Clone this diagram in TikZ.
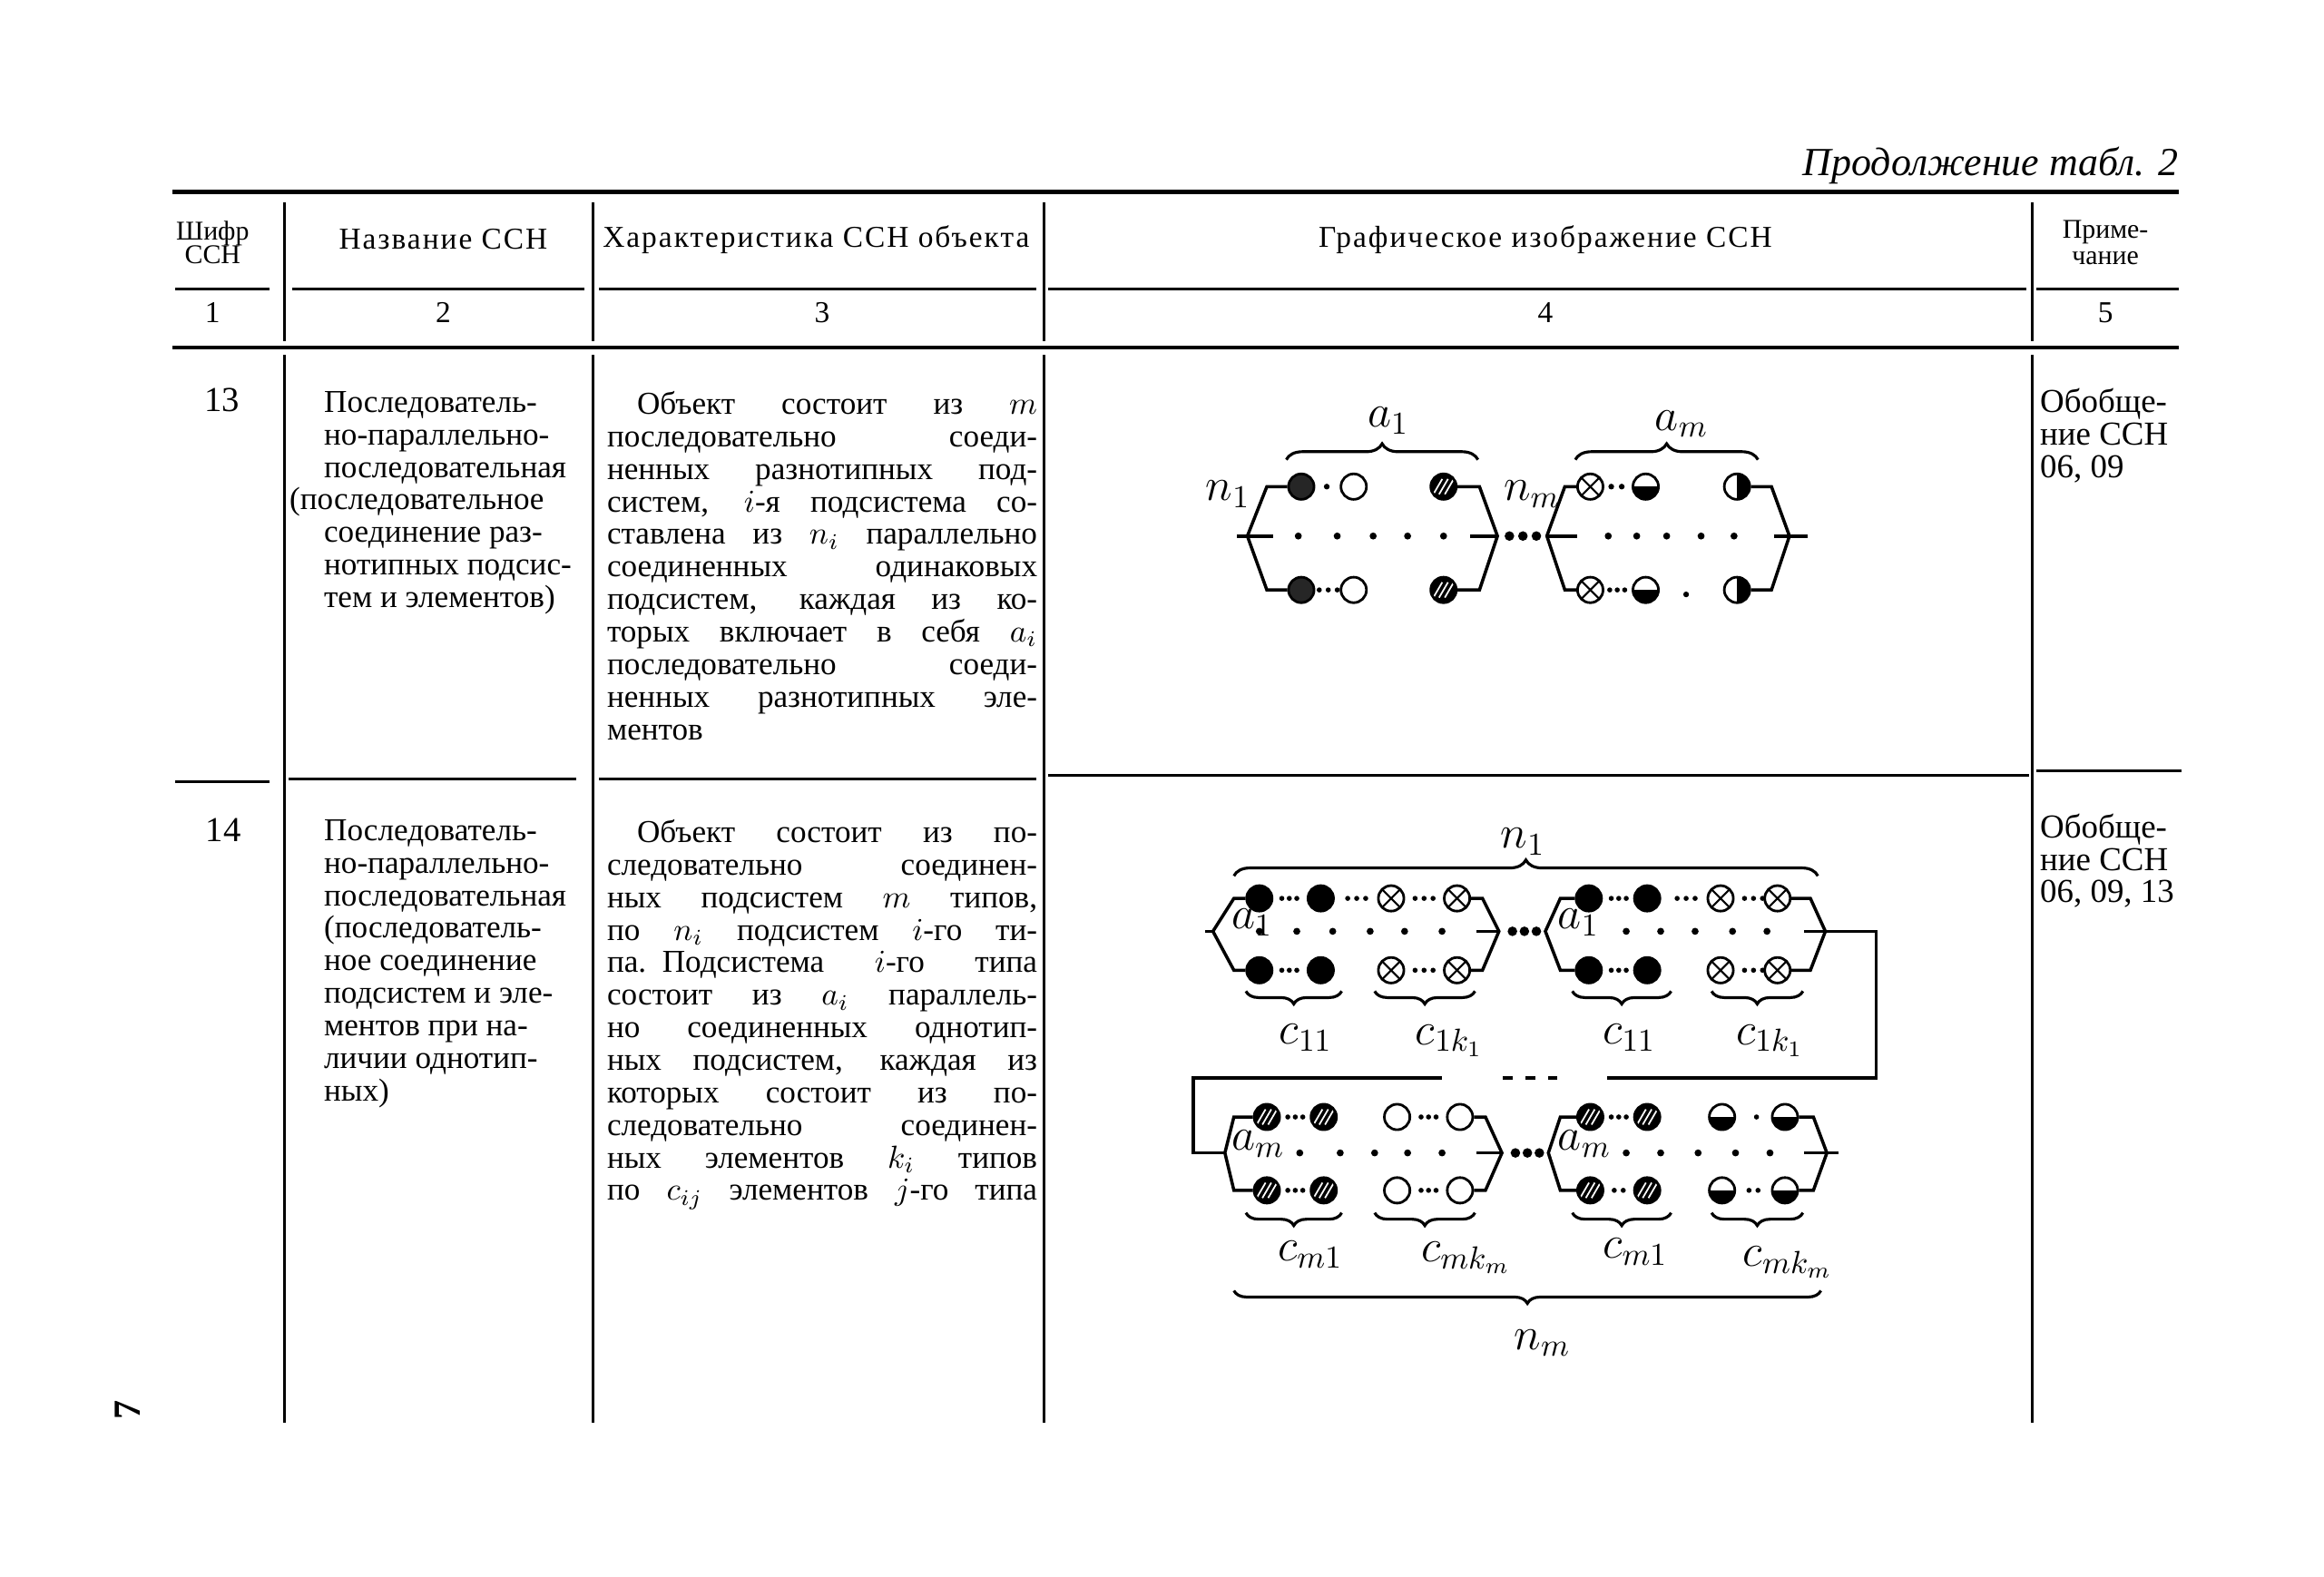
\documentclass[tikz,border=0pt]{standalone}
\usepackage{fontspec}
\setmainfont{Liberation Serif}
\usetikzlibrary{decorations.pathreplacing}
\newcommand{\jl}[1]{\makebox[47.4mm][s]{\spaceskip=0.3em plus 1fil\relax #1}}

\begin{document}
\begin{tikzpicture}[x=0.165mm, y=-0.165mm,
    rule/.style={line width=1.3pt},
    vrule/.style={line width=0.8pt},
    thinrule/.style={line width=0.9pt},
    head/.style={font=\fontsize{9.5}{9}\selectfont\addfontfeature{LetterSpace=6}, align=center, inner sep=0},
    body/.style={font=\fontsize{10}{10.2}\selectfont, align=left, inner sep=0, anchor=north west},
    note/.style={font=\fontsize{10.5}{10.2}\selectfont, align=left, inner sep=0, anchor=north west},
    lab/.style={font=\fontsize{14}{14}\selectfont, inner sep=0},
    elem/.style={circle, draw, line width=0.8pt, minimum size=8pt, inner sep=0, fill=white},
    eopen/.style={elem},
    efull/.style={elem, fill=black},
    edot/.style={elem, fill=black!85},
    ecross/.style={elem, path picture={\draw[black, line width=0.6pt] (path picture bounding box.south west) -- (path picture bounding box.north east) (path picture bounding box.north west) -- (path picture bounding box.south east);}},
    ehatch/.style={elem, fill=black, path picture={\foreach \d in {-1.8,0,1.8} \draw[white, line width=0.5pt] ([xshift=\d pt]path picture bounding box.center) ++(-1.4pt,-2.4pt) -- ++(2.8pt,4.8pt);}},
    ehalfh/.style={elem, path picture={\fill[black] (path picture bounding box.west) rectangle (path picture bounding box.south east);}},
    ehalfv/.style={elem, path picture={\fill[black] (path picture bounding box.north) rectangle (path picture bounding box.south east);}},
    wire/.style={line width=1pt},
    brc/.style={decorate, decoration={brace, amplitude=5pt}, line width=0.9pt},
    brcm/.style={decorate, decoration={brace, amplitude=4pt, mirror}, line width=0.9pt}
]
\useasboundingbox (0,0) rectangle (1552,1053);

% title and table rules
\node[font=\fontsize{12.5}{12}\selectfont\itshape, anchor=base east, inner sep=0] (title) at (1455,117) {Продолжение табл. 2};
\draw[rule] (115,128) -- (1455,128);
\draw[rule] (115,232) -- (1455,232);
\foreach \a/\b in {117/180,195/390,400/692,700/1353,1360/1455}
  \draw[thinrule] (\a,193) -- (\b,193);
\foreach \x in {190,396,697,1357}{
  \draw[vrule] (\x,135) -- (\x,228);
  \draw[vrule] (\x,237) -- (\x,950);
}
\draw[thinrule] (117,522) -- (180,522);
\draw[thinrule] (193,520) -- (385,520);
\draw[thinrule] (400,520) -- (692,520);
\draw[thinrule] (700,518) -- (1355,518);
\draw[thinrule] (1360,515) -- (1457,515);

% header
\node[head, font=\fontsize{8.5}{7.5}\selectfont] (h1) at (142,162) {Шифр\\ССН};
\node[head] (h2) at (296,160) {Название ССН};
\node[head] (h3) at (545,160) {Характеристика ССН объекта};
\node[head] (h4) at (1032,160) {Графическое изображение ССН};
\node[head, font=\fontsize{8.5}{8}\selectfont] (h5) at (1406,162) {Приме-\\чание};
\foreach \x/\t in {142/1,296/2,549/3,1032/4,1406/5}
  \node[head] (n\t) at (\x,209) {\t};

% row 13
\node[body, font=\fontsize{11}{11}\selectfont] (r13) at (136,259) {13};
\node[body] (name13) at (216,261) {Последователь-\\но-параллельно-\\последовательная\\\hspace*{-3.8mm}(последовательное\\соединение раз-\\нотипных подсис-\\тем и элементов)};
\node[body, text width=47.4mm] (text13) at (405,261) {\jl{\hspace*{3.3mm}Объект состоит из $m$}\\\jl{последовательно соеди-}\\\jl{ненных разнотипных под-}\\\jl{систем, $i$-я подсистема со-}\\\jl{ставлена из $n_i$ параллельно}\\\jl{соединенных одинаковых}\\\jl{подсистем, каждая из ко-}\\\jl{торых включает в себя $a_i$}\\\jl{последовательно соеди-}\\\jl{ненных разнотипных эле-}\\ментов};
\node[note] (note13) at (1362,259) {Обобще-\\ние ССН\\06, 09};

% row 14
\node[body, font=\fontsize{11}{11}\selectfont] (r14) at (137,546) {14};
\node[body] (name14) at (216,547) {Последователь-\\но-параллельно-\\последовательная\\(последователь-\\ное соединение\\подсистем и эле-\\ментов при на-\\личии однотип-\\ных)};
\node[body, text width=47.4mm] (text14) at (405,547) {\jl{\hspace*{3.3mm}Объект состоит из по-}\\\jl{следовательно соединен-}\\\jl{ных подсистем $m$ типов,}\\\jl{по $n_i$ подсистем $i$-го ти-}\\\jl{па. Подсистема $i$-го типа}\\\jl{состоит из $a_i$ параллель-}\\\jl{но соединенных однотип-}\\\jl{ных подсистем, каждая из}\\\jl{которых состоит из по-}\\\jl{следовательно соединен-}\\\jl{ных элементов $k_i$ типов}\\\jl{по $c_{ij}$ элементов $j$-го типа}};
\node[note] (note14) at (1362,543) {Обобще-\\ние ССН\\06, 09, 13};

\node[font=\fontsize{12}{12}\selectfont\bfseries, rotate=90, inner sep=0] (pg) at (85,942) {7};

% diagram 13, first subsystem
\foreach \r/\y in {t/325,b/394}{
  \node[edot] (s1\r1) at (869,\y) {};
  \node[eopen] (s1\r2) at (904,\y) {};
  \node[ehatch] (s1\r3) at (964,\y) {};
}
\coordinate (s1tl) at (846,325); \coordinate (s1ml) at (833,358); \coordinate (s1bl) at (846,394);
\coordinate (s1tr) at (988,325); \coordinate (s1mr) at (1000,358); \coordinate (s1br) at (988,394);
\draw[wire] (s1t1) -- (s1tl) -- (s1ml) -- (s1bl) -- (s1b1);
\draw[wire] (s1t3) -- (s1tr) -- (s1mr) -- (s1br) -- (s1b3);
\draw[wire] (826,358) -- (850,358);
\draw[wire] (982,358) -- (s1mr);
\foreach \x in {867,893,917,940,964} \fill (\x,358) circle (1.1pt);
\fill (886,325) circle (0.9pt);
\foreach \x in {881,887,893} \fill (\x,394) circle (0.8pt);
\foreach \x in {1008,1017,1026} \fill (\x,358) circle (1.5pt);
% diagram 13, last subsystem
\foreach \r/\y in {t/325,b/394}{
  \node[ecross] (s2\r1) at (1062,\y) {};
  \node[ehalfh] (s2\r2) at (1099,\y) {};
  \node[ehalfv] (s2\r3) at (1160,\y) {};
}
\coordinate (s2tl) at (1045,325); \coordinate (s2ml) at (1033,358); \coordinate (s2bl) at (1045,394);
\coordinate (s2tr) at (1183,325); \coordinate (s2mr) at (1195,358); \coordinate (s2br) at (1183,394);
\draw[wire] (s2t1) -- (s2tl) -- (s2ml) -- (s2bl) -- (s2b1);
\draw[wire] (s2t3) -- (s2tr) -- (s2mr) -- (s2br) -- (s2b3);
\draw[wire] (s2ml) -- (1053,358);
\draw[wire] (1185,358) -- (1207,358);
\foreach \x in {1074,1093,1113,1136,1158} \fill (\x,358) circle (1.1pt);
\foreach \x in {1076,1083} \fill (\x,325) circle (0.9pt);
\foreach \x in {1075,1080,1085} \fill (\x,394) circle (0.8pt);
\fill (1126,397) circle (0.9pt);
\draw[brc] (859,307) -- (987,307);
\draw[brc] (1052,307) -- (1174,307);
\node[lab] (la1) at (927,281) {$a_1$};
\node[lab] (lam) at (1123,283) {$a_m$};
\node[lab] (ln1) at (820,330) {$n_1$};
\node[lab] (lnm) at (1023,330) {$n_m$};

% diagram 14, upper row
\foreach \r/\y in {t/600,b/648}{
  \node[efull] (A\r1) at (841,\y) {};
  \node[efull] (A\r2) at (882,\y) {};
  \node[ecross] (A\r3) at (929,\y) {};
  \node[ecross] (A\r4) at (973,\y) {};
  \node[efull] (B\r1) at (1061,\y) {};
  \node[efull] (B\r2) at (1100,\y) {};
  \node[ecross] (B\r3) at (1149,\y) {};
  \node[ecross] (B\r4) at (1187,\y) {};
}
\coordinate (Atl) at (824,600); \coordinate (Aml) at (810,622); \coordinate (Abl) at (824,648);
\coordinate (Atr) at (990,600); \coordinate (Amr) at (1001,622); \coordinate (Abr) at (990,648);
\coordinate (Btl) at (1042,600); \coordinate (Bml) at (1032,622); \coordinate (Bbl) at (1042,648);
\coordinate (Btr) at (1209,600); \coordinate (Bmr) at (1219,622); \coordinate (Bbr) at (1209,648);
\draw[wire] (At1) -- (Atl) -- (Aml) -- (Abl) -- (Ab1);
\draw[wire] (At4) -- (Atr) -- (Amr) -- (Abr) -- (Ab4);
\draw[wire] (Bt1) -- (Btl) -- (Bml) -- (Bbl) -- (Bb1);
\draw[wire] (Bt4) -- (Btr) -- (Bmr) -- (Bbr) -- (Bb4);
\draw[wire] (805,622) -- (Aml);
\draw[wire] (986,622) -- (Amr);
\draw[wire] (1205,622) -- (Bmr);
\foreach \x in {841,866,890,915,938,963,1086,1109,1132,1157,1180} \fill (\x,622) circle (1.1pt);
\foreach \x in {1010,1018,1026} \fill (\x,622) circle (1.5pt);
\foreach \o in {0,220}{
  \foreach \x in {856,861,866, 900,906,912, 945,951,957} \fill (\x+\o,600) circle (0.8pt);
  \foreach \x in {856,861,866, 945,951,957} \fill (\x+\o,648) circle (0.8pt);
}
\node[lab, anchor=west] (a1A) at (822,616) {$a_1$};
\node[lab, anchor=west] (a1B) at (1040,616) {$a_1$};
% link between rows
\coordinate (ret1) at (1253,622); \coordinate (ret2) at (1253,720);
\coordinate (ret3) at (1073,720); \coordinate (ret4) at (963,720);
\coordinate (ret5) at (797,720); \coordinate (ret6) at (797,770);
\draw[wire] (Bmr) -- (ret1) -- (ret2) -- (ret3);
\draw[wire, dash pattern=on 3pt off 4pt] (1040,720) -- (1000,720);
\draw[wire] (ret4) -- (ret5) -- (ret6) -- (818,770);

% diagram 14, lower row
\foreach \r/\y in {t/746,b/795}{
  \node[ehatch] (C\r1) at (846,\y) {};
  \node[ehatch] (C\r2) at (884,\y) {};
  \node[eopen] (C\r3) at (933,\y) {};
  \node[eopen] (C\r4) at (975,\y) {};
  \node[ehatch] (D\r1) at (1062,\y) {};
  \node[ehatch] (D\r2) at (1100,\y) {};
  \node[ehalfh] (D\r3) at (1150,\y) {};
  \node[ehalfh] (D\r4) at (1192,\y) {};
}
\coordinate (Ctl) at (824,746); \coordinate (Cml) at (818,770); \coordinate (Cbl) at (824,795);
\coordinate (Ctr) at (992,746); \coordinate (Cmr) at (1003,770); \coordinate (Cbr) at (992,795);
\coordinate (Dtl) at (1042,746); \coordinate (Dml) at (1034,770); \coordinate (Dbl) at (1042,795);
\coordinate (Dtr) at (1211,746); \coordinate (Dmr) at (1220,770); \coordinate (Dbr) at (1211,795);
\draw[wire] (Ct1) -- (Ctl) -- (Cml) -- (Cbl) -- (Cb1);
\draw[wire] (Ct4) -- (Ctr) -- (Cmr) -- (Cbr) -- (Cb4);
\draw[wire] (Dt1) -- (Dtl) -- (Dml) -- (Dbl) -- (Db1);
\draw[wire] (Dt4) -- (Dtr) -- (Dmr) -- (Dbr) -- (Db4);
\draw[wire] (986,770) -- (Cmr);
\draw[wire] (1205,770) -- (1228,770);
\foreach \x in {868,895,918,940,963,1086,1109,1134,1159,1182} \fill (\x,770) circle (1.1pt);
\foreach \x in {1012,1020,1028} \fill (\x,770) circle (1.5pt);
\foreach \x in {860,865,870, 949,954,959, 1076,1081,1086} \fill (\x,746) circle (0.8pt);
\fill (1173,746) circle (0.8pt);
\foreach \x in {860,865,870, 949,954,959, 1078,1084, 1168,1174} \fill (\x,795) circle (0.8pt);
\node[lab, anchor=west] (amC) at (822,764) {$a_m$};
\node[lab, anchor=west] (amD) at (1040,764) {$a_m$};

% braces and labels of diagram 14
\draw[brc] (824,585) -- (1214,585);
\node[lab] (ln1b) at (1017,562) {$n_1$};
\foreach \a/\b in {832/896,918/985,1050/1116,1143/1204}
  \draw[brcm] (\a,662) -- (\b,662);
\node[lab] (c11a) at (872,693) {$c_{11}$};
\node[lab] (c1ka) at (968,695) {$c_{1k_1}$};
\node[lab] (c11b) at (1088,693) {$c_{11}$};
\node[lab] (c1kb) at (1182,695) {$c_{1k_1}$};
\foreach \a/\b in {832/896,918/985,1050/1116,1143/1204}
  \draw[brcm] (\a,810) -- (\b,810);
\node[lab] (cm1a) at (875,838) {$c_{m1}$};
\node[lab] (cmka) at (979,840) {$c_{mk_m}$};
\node[lab] (cm1b) at (1092,836) {$c_{m1}$};
\node[lab] (cmkb) at (1194,843) {$c_{mk_m}$};
\draw[brcm] (824,862) -- (1216,862);
\node[lab] (lnmb) at (1030,897) {$n_m$};
\end{tikzpicture}
\end{document}
